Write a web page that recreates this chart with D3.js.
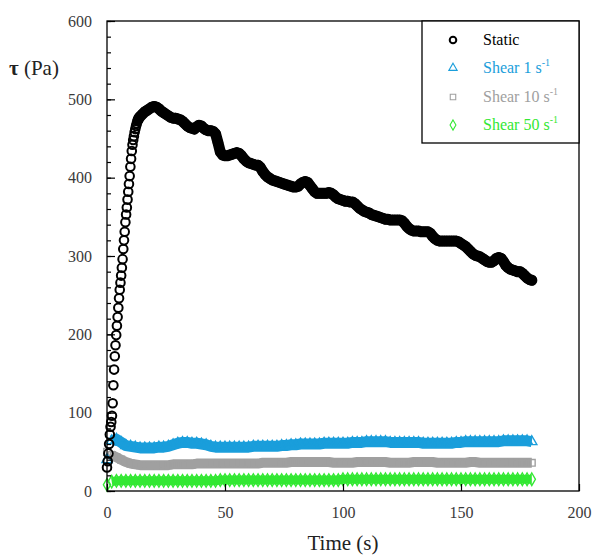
<!DOCTYPE html>
<html>
<head>
<meta charset="utf-8">
<script src="https://cdn.jsdelivr.net/npm/d3@7"></script>
<style>
  body { margin: 0; background: #fff; }
  svg { display: block; }
  svg text { font-family: "Liberation Serif", "Times New Roman", "DejaVu Serif", serif; }
</style>
</head>
<body>
<div id="chart"></div>
<script>
// static test: dense sampling during the rise (every 0.3 s), then once a second
const staticRiseStress = [30, 38, 48, 60, 72, 82, 88, 96, 112, 135,
  155, 172, 186, 199, 211, 222, 234, 246, 257, 266,
  275, 285, 296, 309, 320, 331, 343, 353, 362, 372,
  382, 392, 402, 414, 424, 434, 442, 448, 453, 458,
  462, 466, 469, 472, 474, 476];

const staticStress = [478, 481, 484, 486, 488, 490, 491, 490, 488, 485,
  483, 481, 479, 477, 476, 476, 475, 474, 472, 469,
  466, 464, 463, 462, 465, 467, 466, 463, 461, 460,
  460, 459, 456, 445, 433, 429, 428, 428, 429, 430,
  431, 432, 431, 428, 424, 421, 419, 418, 417, 416,
  416, 413, 408, 404, 401, 399, 397, 396, 395, 394,
  393, 392, 391, 390, 389, 388, 388, 389, 392, 394,
  395, 394, 390, 386, 382, 380, 380, 380, 380, 380,
  381, 380, 378, 375, 373, 372, 371, 370, 370, 369,
  369, 367, 364, 361, 359, 357, 356, 355, 353, 352,
  351, 350, 349, 348, 347, 347, 346, 346, 346, 346,
  346, 345, 342, 338, 335, 333, 332, 332, 332, 331,
  331, 331, 331, 329, 325, 322, 320, 319, 319, 319,
  319, 319, 319, 319, 319, 318, 316, 314, 312, 309,
  306, 303, 301, 300, 299, 297, 295, 293, 292, 292,
  294, 297, 298, 297, 293, 288, 285, 283, 282, 281,
  280, 280, 278, 275, 272, 270, 269];

// shear tests, one value every 2 s from 0 to 180 s
const shear1Stress = [40, 64, 66, 62, 58, 57, 56, 55, 55, 55,
  55, 56, 56, 57, 59, 61, 62, 62, 61, 61,
  60, 59, 57, 56, 56, 56, 56, 56, 56, 56,
  56, 57, 57, 57, 57, 57, 57, 58, 58, 59,
  59, 60, 60, 60, 60, 60, 61, 61, 61, 61,
  61, 61, 62, 62, 62, 63, 63, 63, 63, 63,
  62, 62, 62, 62, 62, 62, 62, 61, 61, 61,
  61, 61, 61, 61, 62, 62, 63, 63, 63, 63,
  63, 63, 63, 63, 64, 64, 64, 64, 64, 64,
  63];

const shear10Stress = [50, 46, 43, 40, 37, 35, 34, 33, 33, 33,
  33, 33, 33, 33, 34, 34, 34, 34, 34, 35,
  35, 35, 35, 35, 35, 35, 35, 35, 35, 35,
  35, 35, 35, 36, 36, 36, 36, 36, 36, 37,
  37, 37, 37, 37, 37, 37, 37, 37, 36, 36,
  36, 36, 36, 37, 37, 37, 37, 37, 37, 37,
  36, 36, 36, 36, 36, 37, 37, 37, 37, 37,
  36, 36, 36, 36, 36, 36, 36, 37, 37, 36,
  36, 36, 36, 36, 36, 36, 36, 36, 36, 36,
  36];

const shear50Stress = [8, 12, 13, 13, 13, 13, 13, 13, 13, 13,
  13, 13, 13, 13, 13, 13, 13, 13, 13, 13,
  13, 13, 13, 13, 14, 14, 14, 14, 14, 14,
  14, 14, 14, 14, 14, 14, 14, 14, 14, 14,
  14, 14, 14, 14, 14, 14, 14, 14, 14, 14,
  15, 15, 15, 15, 15, 15, 15, 15, 15, 15,
  15, 15, 15, 15, 15, 15, 15, 15, 15, 15,
  15, 15, 15, 15, 15, 15, 15, 15, 15, 15,
  15, 15, 15, 15, 15, 15, 15, 15, 15, 15,
  15];

const xTicks = [0, 50, 100, 150, 200];
const yTicks = [0, 100, 200, 300, 400, 500, 600];

const seriesNames = ["Static", "Shear 1", "Shear 10", "Shear 50"];
const colors = ["#000000", "#1a9edb", "#a0a0a0", "#33e833"];

const FONT = "'Liberation Serif', 'Times New Roman', 'DejaVu Serif', serif";
const W = 593, H = 555;
const margin = { top: 21, right: 14, bottom: 64, left: 107 };

const svg = d3.select("#chart").append("svg")
  .attr("width", W)
  .attr("height", H)
  .attr("font-family", FONT);

const x = d3.scaleLinear().domain([0, 200]).range([margin.left, W - margin.right]);
const y = d3.scaleLinear().domain([0, 600]).range([H - margin.bottom, margin.top]);

// build point lists
const staticPts = staticRiseStress.map((v, i) => ({ t: i * 0.3, v }))
  .concat(staticStress.map((v, i) => ({ t: 14 + i, v })));
const shearPts = (arr) => arr.map((v, i) => ({ t: i * 2, v }));

const series = [
  { pts: staticPts, color: colors[0], sym: null },
  { pts: shearPts(shear1Stress), color: colors[1], sym: d3.symbolTriangle, band: 11 },
  { pts: shearPts(shear10Stress), color: colors[2], sym: d3.symbolSquare, band: 10 },
  { pts: shearPts(shear50Stress), color: colors[3], sym: d3.symbolDiamond, band: 9 }
];

const line = d3.line().x(d => x(d.t)).y(d => y(d.v));

// shear bands (points sit so close they merge into a solid strip)
series.slice(1).reverse().forEach(s => {
  svg.append("path")
    .datum(s.pts.filter(d => d.t >= 2))
    .attr("fill", "none")
    .attr("stroke", s.color)
    .attr("stroke-width", s.band)
    .attr("stroke-linejoin", "round")
    .attr("d", line);

  svg.append("g").selectAll("path")
    .data(s.pts)
    .enter()
    .append("path")
    .attr("transform", d => `translate(${x(d.t)},${y(d.v)})`)
    .attr("d", d3.symbol().type(s.sym).size(45))
    .attr("fill", "none")
    .attr("stroke", s.color)
    .attr("stroke-width", 1.4);
});

// static: solid band once points pile up, hollow circles on top
svg.append("path")
  .datum(staticPts.filter(d => d.t >= 13))
  .attr("fill", "none")
  .attr("stroke", "#000")
  .attr("stroke-width", 11)
  .attr("stroke-linejoin", "round")
  .attr("stroke-linecap", "round")
  .attr("d", line);

svg.append("g").selectAll("circle")
  .data(staticPts)
  .enter()
  .append("circle")
  .attr("cx", d => x(d.t))
  .attr("cy", d => y(d.v))
  .attr("r", 4.3)
  .attr("fill", "none")
  .attr("stroke", "#000")
  .attr("stroke-width", 2);

// frame
svg.append("rect")
  .attr("x", margin.left)
  .attr("y", margin.top)
  .attr("width", W - margin.right - margin.left)
  .attr("height", H - margin.bottom - margin.top)
  .attr("fill", "none")
  .attr("stroke", "#000")
  .attr("stroke-width", 1.3);

// axes, ticks pointing inward
const xAxis = svg.append("g")
  .attr("transform", `translate(0,${y(0)})`)
  .call(d3.axisBottom(x).tickValues(xTicks).tickSize(-7).tickPadding(16));

const yMinor = svg.append("g")
  .attr("transform", `translate(${x(0)},0)`)
  .call(d3.axisLeft(y).tickValues(d3.range(0, 601, 20)).tickSize(-4).tickFormat(""));

const yAxis = svg.append("g")
  .attr("transform", `translate(${x(0)},0)`)
  .call(d3.axisLeft(y).tickValues(yTicks).tickSize(-8).tickPadding(15));

[xAxis, yAxis, yMinor].forEach(g => {
  g.attr("font-family", FONT).attr("font-size", 16);
  g.select(".domain").remove();
  g.selectAll("line").attr("stroke", "#000").attr("stroke-width", 1.2);
  g.selectAll("text").attr("fill", "#3a3a3a");
});

// axis titles
svg.append("text")
  .attr("x", x(100))
  .attr("y", 550)
  .attr("text-anchor", "middle")
  .attr("font-size", 21)
  .attr("fill", "#222")
  .text("Time (s)");

const yt = svg.append("text")
  .attr("x", 9)
  .attr("y", 75)
  .attr("font-size", 21)
  .attr("fill", "#222");
yt.append("tspan").attr("font-weight", "bold").text("τ");
yt.append("tspan").text(" (Pa)");

// legend
const lg = svg.append("g");
lg.append("rect")
  .attr("x", 422)
  .attr("y", margin.top)
  .attr("width", W - margin.right - 422)
  .attr("height", 122)
  .attr("fill", "#fff")
  .attr("stroke", "#000")
  .attr("stroke-width", 1.3);

const legendSyms = [d3.symbolCircle, d3.symbolTriangle, d3.symbolSquare, d3.symbolDiamond];
const legendSup = ["", "-1", "-1", "-1"];
const rowY = [40, 68, 97, 125];

seriesNames.forEach((name, i) => {
  lg.append("path")
    .attr("transform", `translate(453,${rowY[i]})`)
    .attr("d", d3.symbol().type(legendSyms[i]).size(i === 0 ? 34 : 30))
    .attr("fill", "none")
    .attr("stroke", colors[i])
    .attr("stroke-width", i === 0 ? 2 : 1.1);

  const t = lg.append("text")
    .attr("x", 483)
    .attr("y", rowY[i] + 5)
    .attr("font-size", 16)
    .attr("fill", colors[i]);
  if (i === 0) {
    t.text(name);
  } else {
    t.append("tspan").text(name + " s");
    t.append("tspan").attr("dy", -7).attr("font-size", 10).text(legendSup[i]);
  }
});
</script>
</body>
</html>
